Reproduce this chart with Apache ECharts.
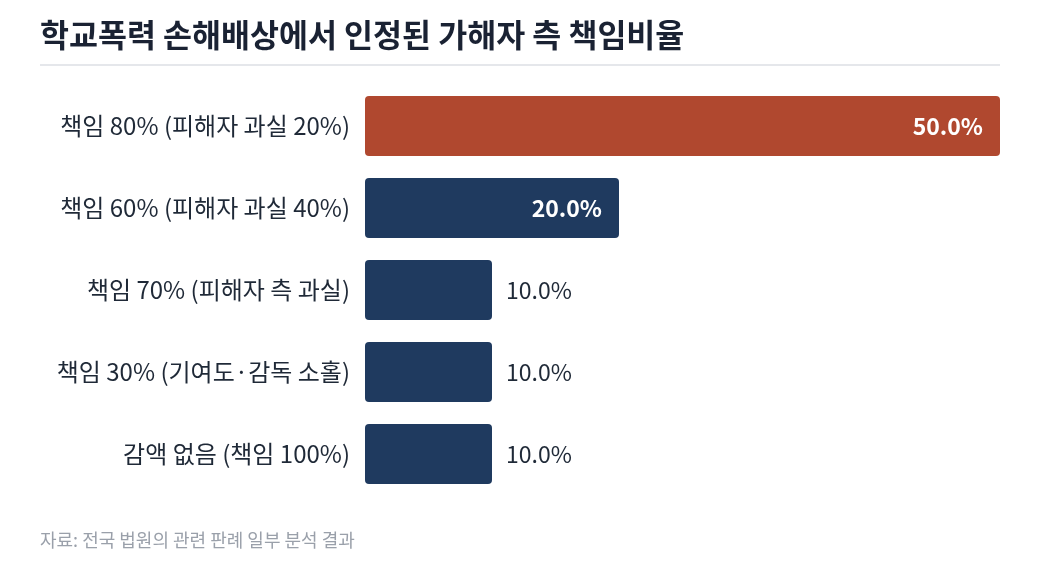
<!DOCTYPE html>
<html><head><meta charset="utf-8">
<script src="https://cdn.jsdelivr.net/npm/echarts@6/dist/echarts.min.js"></script>
<style>html,body{margin:0;padding:0;background:#fff}#c{width:1040px;height:577px}</style>
</head><body><div id="c"></div>
<script>
const titleText = '학교폭력 손해배상에서 인정된 가해자 측 책임비율';
const sourceText = '자료: 전국 법원의 관련 판례 일부 분석 결과';
const categories = ['책임 80% (피해자 과실 20%)','책임 60% (피해자 과실 40%)','책임 70% (피해자 측 과실)','책임 30% (기여도·감독 소홀)','감액 없음 (책임 100%)'];
const values = [50.0, 20.0, 10.0, 10.0, 10.0];
const FONT = '"Noto Sans CJK KR","Noto Sans",sans-serif';
const chart = echarts.init(document.getElementById('c'));
chart.setOption({
  animation:false,
  backgroundColor:'#fff',
  title:{text:titleText,left:35,top:14,textStyle:{fontFamily:FONT,fontSize:31.5,fontWeight:'bold',color:'#1a2233'}},
  graphic:[
    {type:'rect',shape:{x:40,y:64,width:960,height:2},style:{fill:'#e5e7eb'}},
    {type:'text',left:40,top:531,style:{text:sourceText,fontFamily:FONT,fontSize:18,fill:'#9aa0aa'}}
  ],
  grid:{left:365,right:40,top:85,bottom:82,containLabel:false},
  xAxis:{type:'value',min:0,max:50,show:false},
  yAxis:{type:'category',data:categories,inverse:true,axisLine:{show:false},axisTick:{show:false},
    axisLabel:{margin:15,fontFamily:FONT,fontSize:24,color:'#1f2937'}},
  series:[{type:'bar',barWidth:60,
    data:values.map((v,i)=>({value:v,itemStyle:{color:i===0?'#b0482f':'#1f3a5f',borderRadius:4},
      label:{show:true,position:v>15?'insideRight':'right',distance:v>15?17:14,
        color:v>15?'#ffffff':'#1f2937',fontFamily:FONT,fontSize:23,fontWeight:v>15?'bold':'normal',
        formatter:p=>p.value.toFixed(1)+'%'}}))
  }]
});
</script></body></html>
